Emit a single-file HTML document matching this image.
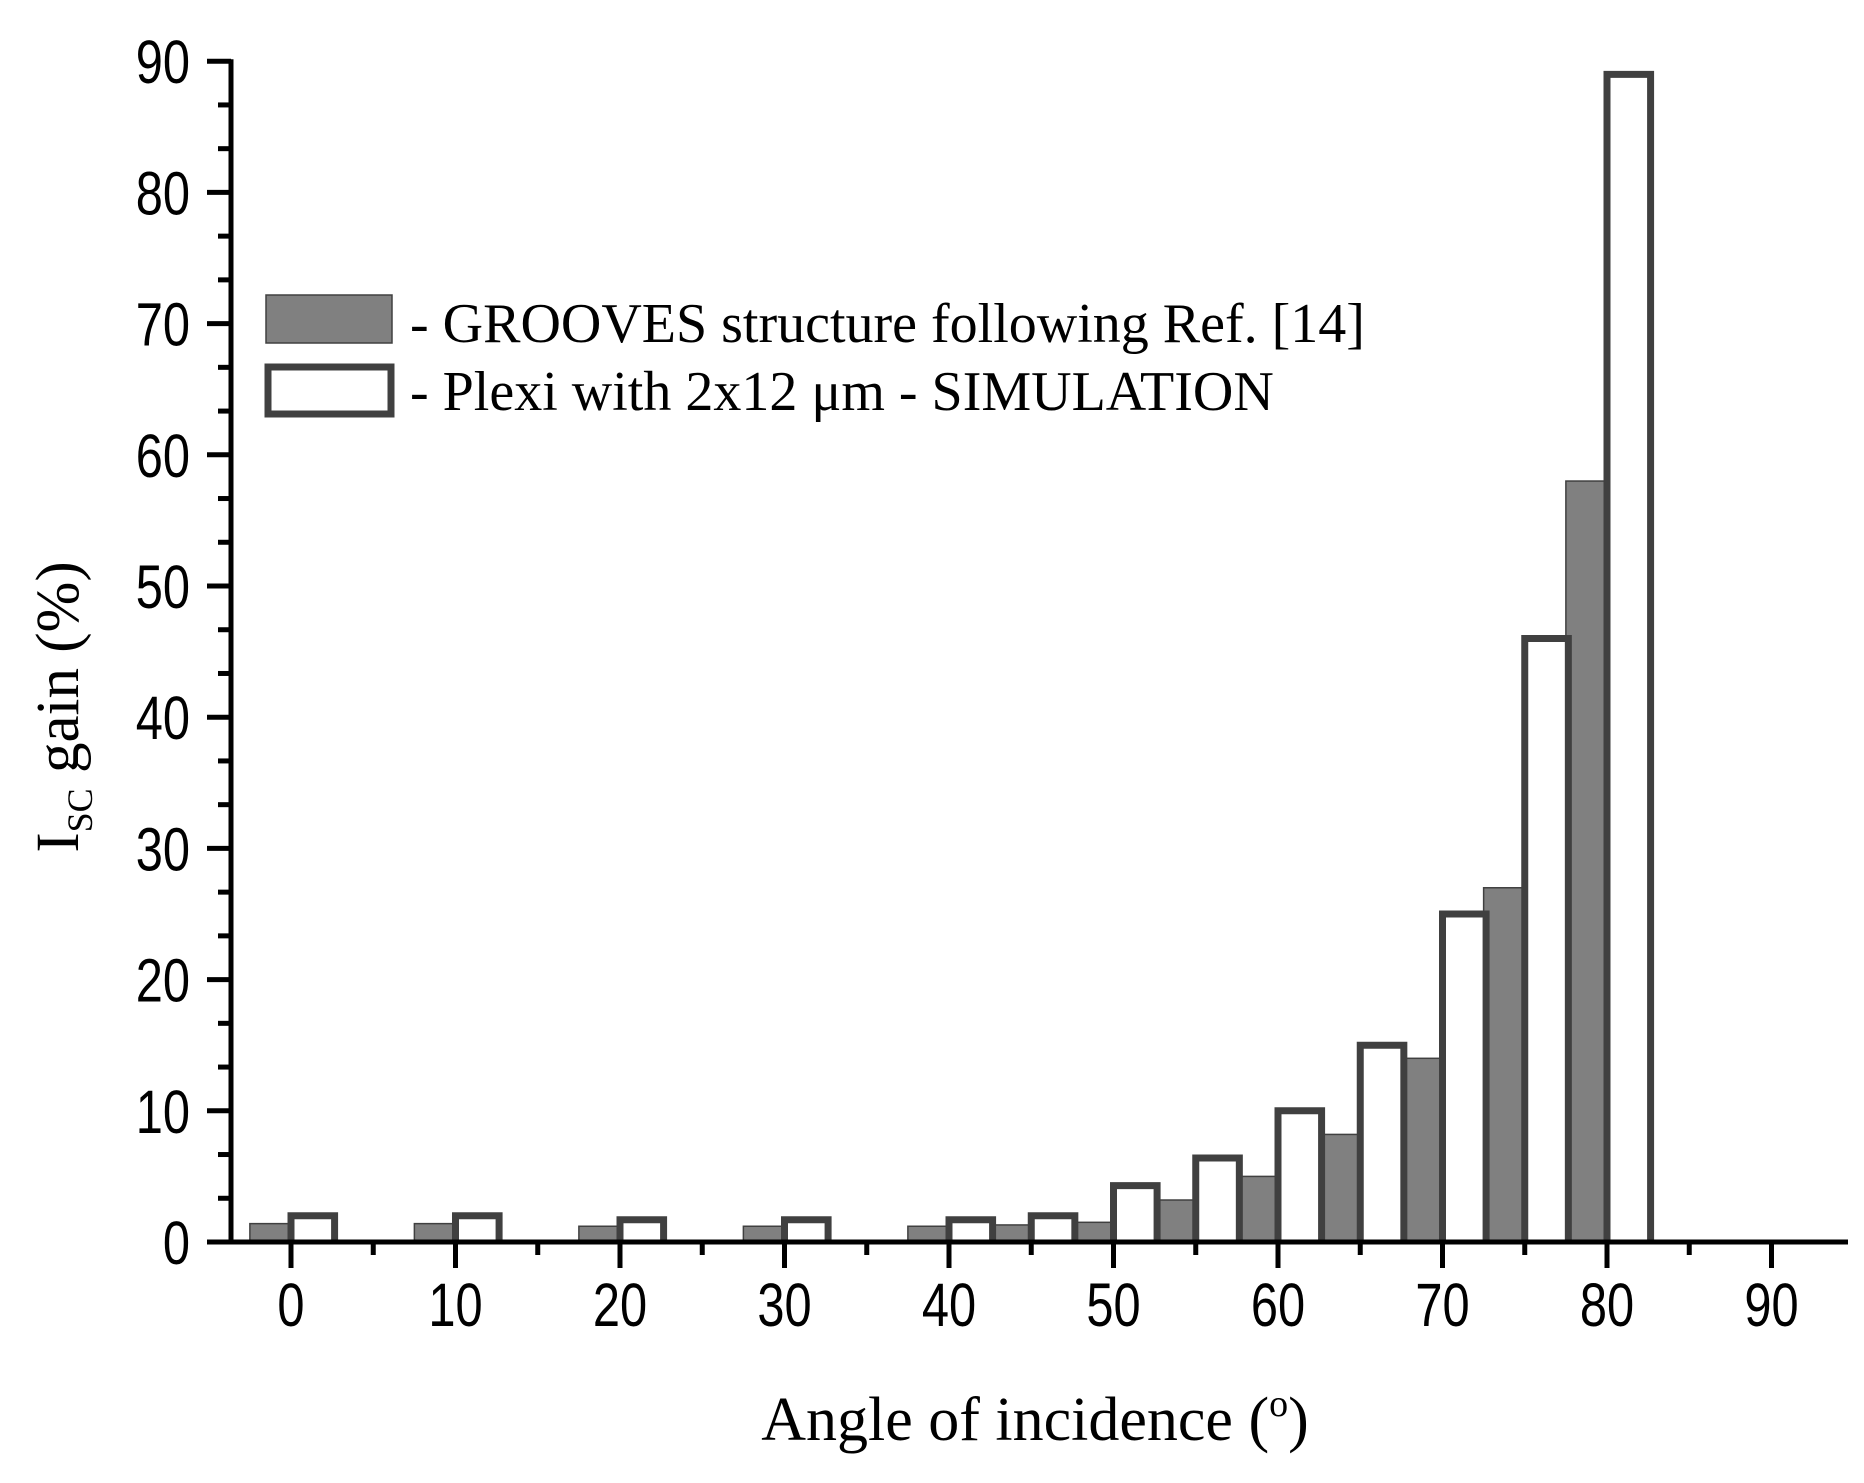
<!DOCTYPE html>
<html><head><meta charset="utf-8"><style>
html,body{margin:0;padding:0;background:#fff;}
svg{display:block;}
</style></head><body>
<svg id="chart" width="1864" height="1483" viewBox="0 0 1864 1483" xmlns="http://www.w3.org/2000/svg">
<g id="plot"></g>
<g>
<rect x="266" y="295" width="126" height="48" fill="#808080" stroke="#404040" stroke-width="1.5"/>
<text x="410" y="342" font-family="Liberation Serif, serif" font-size="56" fill="#000">- GROOVES structure following Ref. [14]</text>
<rect x="268" y="367" width="123" height="47" fill="#fff" stroke="#404040" stroke-width="7"/>
<text x="410" y="410" font-family="Liberation Serif, serif" font-size="56" fill="#000">- Plexi with 2x12 μm - SIMULATION</text>
</g>
<text x="1035" y="1440" text-anchor="middle" font-family="Liberation Serif, serif" font-size="62" fill="#000">Angle of incidence (<tspan font-size="38" dy="-24">o</tspan><tspan dy="24">)</tspan></text>
<text transform="translate(78,707) rotate(-90)" text-anchor="middle" font-family="Liberation Serif, serif" font-size="61" fill="#000">I<tspan font-size="36" dy="14">SC</tspan><tspan dy="-14"> gain (%)</tspan></text>
</svg>
<script>
const categories = [0,10,20,30,40,45,50,55,60,65,70,75,80];
const groovesValues = [1.4,1.4,1.2,1.2,1.2,1.3,1.5,3.2,5,8.2,14,27,58];
const simulationValues = [2,2,1.7,1.7,1.7,2,4.3,6.4,10,15,25,46,89];
const xTicks = [0,10,20,30,40,50,60,70,80,90];
const yTicks = [0,10,20,30,40,50,60,70,80,90];

const NS = 'http://www.w3.org/2000/svg';
const plot = document.getElementById('plot');
const x = v => 291 + 16.45 * v;
const y = v => 1242 - 13.12 * v;
function mk(tag, attrs) {
  const el = document.createElementNS(NS, tag);
  for (const k in attrs) el.setAttribute(k, attrs[k]);
  plot.appendChild(el);
  return el;
}
categories.forEach((c, i) => {
  const g = mk('rect', {x: x(c - 2.5), y: y(groovesValues[i]), width: x(c) - x(c - 2.5), height: y(0) - y(groovesValues[i]), fill: '#808080', stroke: '#404040', 'stroke-width': 1.5});
  
  
});
categories.forEach((c, i) => {
  const p = mk('path', {d: `M${x(c)},${y(0)} V${y(simulationValues[i])} H${x(c + 2.65)} V${y(0)}`, fill: '#fff', stroke: '#404040', 'stroke-width': 7});
  
  
});
const xa = mk('line', {x1: 210, y1: y(0), x2: 1848, y2: y(0), stroke: '#000', 'stroke-width': 5});


const ya = mk('line', {x1: 231, y1: y(90) - 2, x2: 231, y2: y(0), stroke: '#000', 'stroke-width': 5});


xTicks.forEach(t => {
  const tk = mk('line', {x1: x(t), y1: y(0), x2: x(t), y2: y(0) + 26, stroke: '#000', 'stroke-width': 5});
  
  
  if (t < 90) {
    const mn = mk('line', {x1: x(t + 5), y1: y(0), x2: x(t + 5), y2: y(0) + 13, stroke: '#000', 'stroke-width': 5});
    
    
  }
  const lb = mk('text', {transform: `translate(${x(t)},1326) scale(0.8,1)`, 'text-anchor': 'middle', 'font-family': 'Liberation Sans, sans-serif', 'font-size': 61, fill: '#000'});
  lb.textContent = t;
  
  
});
yTicks.forEach(t => {
  const tk = mk('line', {x1: 207, y1: y(t), x2: 231, y2: y(t), stroke: '#000', 'stroke-width': 5});
  
  
  if (t < 90) {
    [10/3, 20/3].forEach(o => {
      const mn = mk('line', {x1: 218, y1: y(t + o), x2: 231, y2: y(t + o), stroke: '#000', 'stroke-width': 5});
      
      
    });
  }
  const lb = mk('text', {transform: `translate(190,${y(t) + 22}) scale(0.8,1)`, 'text-anchor': 'end', 'font-family': 'Liberation Sans, sans-serif', 'font-size': 61, fill: '#000'});
  lb.textContent = t;
  
  
});
</script>
</body></html>
